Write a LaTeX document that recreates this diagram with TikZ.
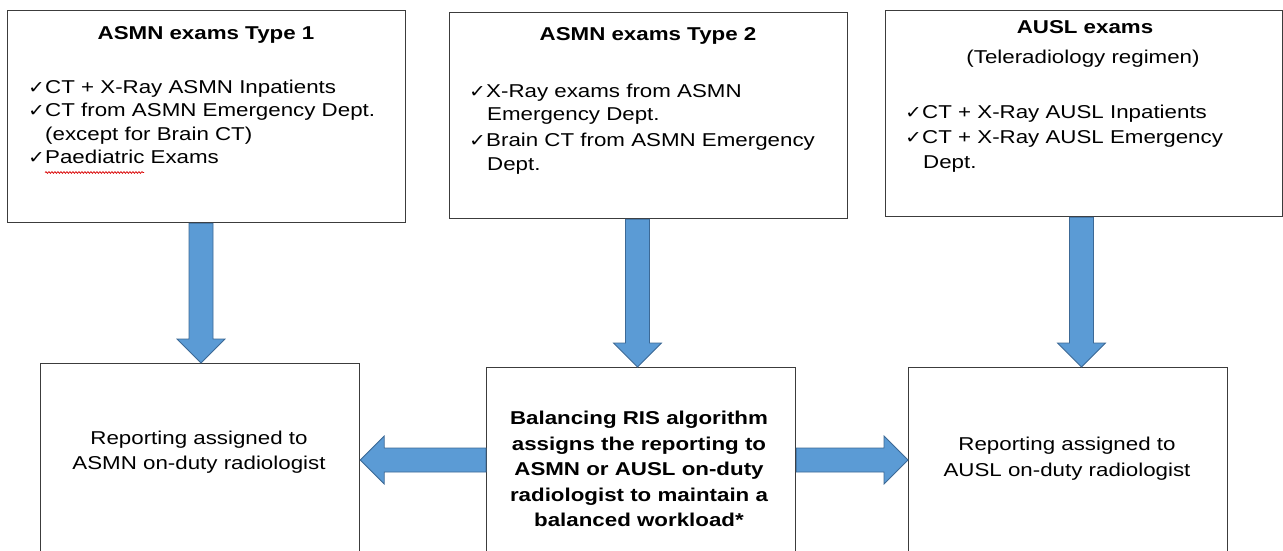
\documentclass[tikz,border=0pt]{standalone}
\usepackage{fontspec}
\setmainfont{Liberation Sans}[FakeStretch=1.2]
\newfontfamily\ckfont{DejaVu Sans}[FakeStretch=1.15]
\usetikzlibrary{calc,decorations.pathmorphing}
\definecolor{arrfill}{RGB}{91,155,213}
\definecolor{arrline}{RGB}{60,105,150}
\definecolor{boxline}{RGB}{60,60,60}
\newcommand\fs{\fontsize{18.6}{24}\selectfont}
\newcommand\ckm{\makebox[17pt][l]{\ckfont\fontsize{17.5}{17.5}\selectfont ✓}}
\newcommand\varrow[2]{%
  \filldraw[blockarrow] ($(#1)+(-12,0)$) -- ($(#1)+(12,0)$) -- ($(#2)+(12,-24)$) -- ($(#2)+(24,-24)$) -- (#2) -- ($(#2)+(-24,-24)$) -- ($(#2)+(-12,-24)$) -- cycle;}
\newcommand\harrow[3]{%
  \filldraw[blockarrow] ($(#1)+(0,-12)$) -- ($(#2)+(#3*24,-12)$) -- ($(#2)+(#3*24,-24)$) -- (#2) -- ($(#2)+(#3*24,24)$) -- ($(#2)+(#3*24,12)$) -- ($(#1)+(0,12)$) -- cycle;}
\begin{document}
\begin{tikzpicture}[x=1pt,y=-1pt,font=\fs,
  box/.style={draw=boxline, line width=1.2pt, fill=white, inner sep=0pt, anchor=north west},
  blockarrow/.style={fill=arrfill, draw=arrline, line width=0.8pt, line join=miter},
  txt/.style={inner sep=0pt, anchor=base west},
  ctxt/.style={inner sep=0pt, anchor=base}]
\useasboundingbox (0,0) rectangle (1283,551);
\fill[white] (0,0) rectangle (1283,551);
\clip (0,0) rectangle (1283,551);

% boxes
\node[box, minimum width=398pt, minimum height=212pt] (t1) at (7,10) {};
\node[box, minimum width=398pt, minimum height=206pt] (t2) at (449,12) {};
\node[box, minimum width=397pt, minimum height=206pt] (t3) at (885,10) {};
\node[box, minimum width=319pt, minimum height=230pt] (b1) at (40,363) {};
\node[box, minimum width=309pt, minimum height=230pt] (b2) at (486,367) {};
\node[box, minimum width=319pt, minimum height=230pt] (b3) at (908,367) {};

% box 1 text
\node[ctxt] (t1h) at (206,40) {\bfseries ASMN exams Type 1};
\node[txt] (t1a) at (28,93) {\ckm CT + X-Ray ASMN Inpatients};
\node[txt] (t1b) at (28,117) {\ckm CT from ASMN Emergency Dept.};
\node[txt] (t1c) at (45,140) {(except for Brain CT)};
\node[txt] (t1d) at (28,163) {\ckm Paediatric Exams};
\draw[red!85!black, line width=0.7pt, decorate, decoration={snake, amplitude=0.9pt, segment length=3pt}] (45,172.5) -- (144,172.5);

% box 2 text
\node[ctxt] (t2h) at (648,41) {\bfseries ASMN exams Type 2};
\node[txt] (t2a) at (469,97) {\ckm X-Ray exams from ASMN};
\node[txt] (t2b) at (487,121) {Emergency Dept.};
\node[txt] (t2c) at (469,146) {\ckm Brain CT from ASMN Emergency};
\node[txt] (t2d) at (487,170) {Dept.};

% box 3 text
\node[ctxt] (t3h) at (1085,34) {\bfseries AUSL exams};
\node[ctxt] (t3s) at (1083,64) {(Teleradiology regimen)};
\node[txt] (t3a) at (905,118) {\ckm CT + X-Ray AUSL Inpatients};
\node[txt] (t3b) at (905,143) {\ckm CT + X-Ray AUSL Emergency};
\node[txt] (t3c) at (923,168) {Dept.};

% bottom texts
\node[ctxt] (b1a) at (199,444) {Reporting assigned to};
\node[ctxt] (b1b) at (199,469) {ASMN on-duty radiologist};
\node[ctxt] (b2a) at (639,424) {\bfseries Balancing RIS algorithm};
\node[ctxt] (b2b) at (639,450) {\bfseries assigns the reporting to};
\node[ctxt] (b2c) at (639,475) {\bfseries ASMN or AUSL on-duty};
\node[ctxt] (b2d) at (639,501) {\bfseries radiologist to maintain a};
\node[ctxt] (b2e) at (639,526) {\bfseries balanced workload*};
\node[ctxt] (b3a) at (1067,450) {Reporting assigned to};
\node[ctxt] (b3b) at (1067,476) {AUSL on-duty radiologist};

% arrows
\coordinate (a1) at (201,0);
\coordinate (a2) at (637.5,0);
\coordinate (a3) at (1081.5,0);
\coordinate (hy) at (0,460);
\coordinate (s1) at (a1 |- t1.south);
\coordinate (e1) at (a1 |- b1.north);
\coordinate (s2) at (a2 |- t2.south);
\coordinate (e2) at (a2 |- b2.north);
\coordinate (s3) at (a3 |- t3.south);
\coordinate (e3) at (a3 |- b3.north);
\coordinate (sl) at (b2.west |- hy);
\coordinate (el) at (b1.east |- hy);
\coordinate (sr) at (b2.east |- hy);
\coordinate (er) at (b3.west |- hy);
\varrow{s1}{e1}
\varrow{s2}{e2}
\varrow{s3}{e3}
\harrow{sl}{el}{1}
\harrow{sr}{er}{-1}
\end{tikzpicture}
\end{document}
